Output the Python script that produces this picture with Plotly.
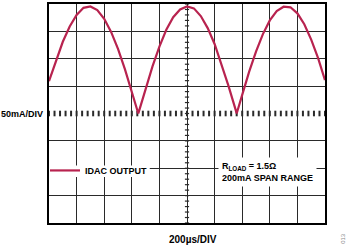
import numpy as np
import plotly.graph_objects as go

# Time axis (µs) and IDAC output current (mA)
time_us = [0, 50, 100, 150, 200, 250, 300, 350, 400, 450, 500, 550, 600, 647,
           650, 700, 750, 800, 850, 900, 950, 1000, 1050, 1100, 1150, 1200, 1250,
           1300, 1350, 1360, 1400, 1450, 1500, 1550, 1600, 1650, 1700, 1750, 1800,
           1850, 1900, 1950, 2000]
idac_mA = [59, 96, 131, 159, 180, 193, 195.5, 189, 173, 149, 118, 81, 40, 0,
           2.6, 45, 86, 122, 153, 176, 190, 195.5, 192, 178, 156, 127, 91,
           51, 9, 0, 34, 76, 113, 145, 170, 187, 195, 194, 183,
           163, 135, 101, 61]

x_range = [0, 2000]
y_range = [-200, 200]
x_div = 200
y_div = 50
y_grid = [-200, -150, -100, -50, 50, 100, 150, 200]

series_name = "IDAC OUTPUT"
y_label = "50mA/DIV"
x_label = "200µs/DIV"
note_text = "R<sub>LOAD</sub> = 1.5Ω<br>200mA SPAN RANGE"
fig_id = "013"

LINE = "#b8234f"
GRID = "#2a2a2a"
FONT = "Liberation Sans, Arial, Helvetica, sans-serif"

fig = go.Figure()

# white patch behind the legend (hides the grid there)
bx0, bx1 = x_range[0], x_range[0] + 3.65 * x_div
by0, by1 = -1.9 * y_div, -2.32 * y_div
fig.add_trace(go.Scatter(x=[bx0, bx1, bx1, bx0, bx0], y=[by0, by0, by1, by1, by0],
                         mode="lines", fill="toself", fillcolor="white",
                         line=dict(width=0, color="white"), showlegend=False, hoverinfo="skip"))

# minor division ticks on the centre cross-hair
hx = np.arange(x_range[0], x_range[1] + 1, x_div / 5)
fig.add_trace(go.Scatter(x=hx, y=np.zeros_like(hx), mode="markers", showlegend=False,
                         hoverinfo="skip",
                         marker=dict(symbol="line-ns", size=4, line=dict(width=2, color=GRID))))
vy = np.arange(y_range[0], y_range[1] + 1, y_div / 5)
fig.add_trace(go.Scatter(x=np.full_like(vy, (x_range[0] + x_range[1]) / 2), y=vy, mode="markers",
                         showlegend=False, hoverinfo="skip",
                         marker=dict(symbol="line-ew", size=3, line=dict(width=1.2, color=GRID))))

fig.add_trace(go.Scatter(x=time_us, y=idac_mA, mode="lines", name=series_name,
                         line=dict(color=LINE, width=2.2)))

fig.update_xaxes(range=x_range, dtick=x_div, tick0=0, showgrid=True, gridcolor=GRID, gridwidth=1,
                 showticklabels=False, ticks="", zeroline=False,
                 showline=True, linecolor="black", linewidth=1.5, mirror=True)
fig.update_yaxes(range=y_range, tickmode="array", tickvals=y_grid, showgrid=True, gridcolor=GRID,
                 gridwidth=1, showticklabels=False, ticks="", zeroline=False,
                 showline=True, linecolor="black", linewidth=1.5, mirror=True)

fig.update_layout(
    width=350, height=247,
    margin=dict(l=49, r=25, t=2, b=24),
    paper_bgcolor="white", plot_bgcolor="white",
    font=dict(family=FONT, size=9, color="black"),
    showlegend=True,
    legend=dict(x=-0.0145, xanchor="left", y=0.24, yanchor="middle",
                bgcolor="rgba(0,0,0,0)", borderwidth=0,
                font=dict(family=FONT, size=9, color="black", weight="bold"),
                itemwidth=30),
    annotations=[
        dict(text="<b>" + y_label + "</b>", xref="paper", yref="paper", x=-0.0145, y=0.5,
             xanchor="right", yanchor="middle", showarrow=False, font=dict(size=9)),
        dict(text="<b>" + x_label + "</b>", xref="paper", yref="paper", x=0.52, y=-0.077,
             xanchor="center", yanchor="middle", showarrow=False, font=dict(size=10)),
        dict(text="<b>" + note_text + "</b>", xref="paper", yref="paper", x=0.612, y=0.231,
             xanchor="left", yanchor="middle", align="left", showarrow=False,
             bgcolor="white", borderpad=3, font=dict(size=9)),
        dict(text=fig_id, xref="paper", yref="paper", x=1.065, y=-0.068, textangle=-90,
             xanchor="center", yanchor="middle", showarrow=False,
             font=dict(size=6, color="#888888")),
    ],
)

fig.write_html("out.html")
